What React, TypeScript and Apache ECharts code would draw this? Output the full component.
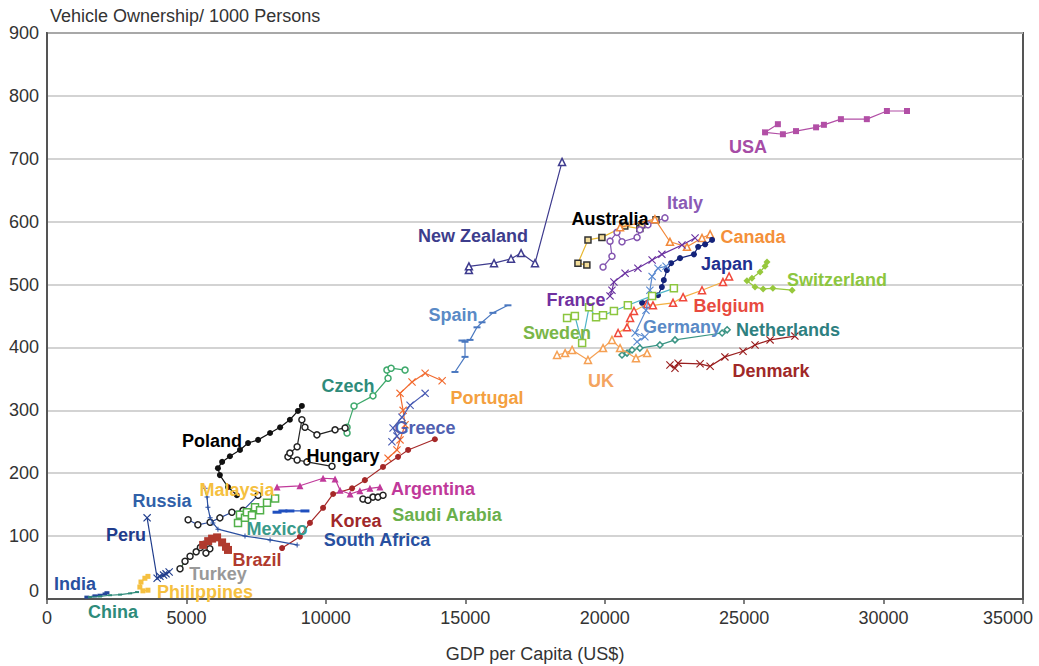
import React, { useEffect, useRef } from "react";
import * as echarts from "echarts";

// ---- axis settings ----
const xMin = 0;
const xMax = 35000;
const xStep = 5000;
const yMin = 0;
const yMax = 900;
const yStep = 100;
const yTitle = "Vehicle Ownership/ 1000 Persons";
const xTitle = "GDP per Capita (US$)";

// ---- series values: [GDP per capita, vehicles per 1000 persons] ----
const usa = [[26210, 755], [25750, 742], [26390, 739], [26860, 744], [27580, 750], [27860, 754], [28470, 763], [29400, 763], [30120, 776], [30840, 776]];
const newZealand = [[15130, 523], [15130, 529], [16030, 534], [16640, 541], [17000, 550], [17500, 534], [18470, 695]];
const australia = [[19360, 531], [19040, 534], [19400, 571], [19900, 575], [20720, 593], [21260, 589], [21330, 595], [21840, 603]];
const italy = [[19940, 528], [20260, 545], [20190, 569], [20440, 583], [20620, 568], [21160, 575], [21260, 587], [21550, 595], [22160, 606]];
const canada = [[20550, 591], [21800, 604], [22340, 568], [22950, 560], [23490, 574], [23780, 580]];
const france = [[20190, 482], [20260, 491], [20330, 504], [20730, 518], [21190, 526], [21700, 539], [22050, 548], [22770, 563], [23240, 574]];
const japan = [[21340, 471], [21910, 483], [22050, 496], [22120, 507], [22230, 523], [22380, 534], [22700, 542], [23200, 548], [23350, 560], [23600, 564], [23850, 571]];
const switzerland = [[25820, 536], [25750, 529], [25570, 520], [25280, 510], [25100, 506], [25390, 496], [25680, 493], [26030, 494], [26720, 491]];
const belgium = [[20480, 423], [20800, 432], [20910, 447], [21050, 458], [21520, 469], [21730, 467], [22450, 471], [22810, 480], [23490, 491], [24240, 504], [24460, 513]];
const germany = [[21160, 409], [21440, 417], [21090, 423], [21480, 459], [21620, 491], [21700, 513], [21910, 526], [22200, 529]];
const netherlands = [[20620, 388], [20800, 391], [20980, 396], [21260, 399], [21980, 404], [22520, 412], [24210, 423], [24390, 428]];
const denmark = [[22340, 372], [22520, 367], [22630, 375], [23420, 374], [23780, 370], [24310, 385], [24960, 394], [25390, 404], [25930, 412], [26820, 418]];
const sweden = [[18650, 447], [18930, 450], [19190, 407], [19440, 464], [19690, 448], [19940, 451], [20330, 458], [20830, 467], [21700, 482], [22480, 494]];
const uk = [[18290, 388], [18580, 391], [18830, 396], [19400, 380], [19940, 399], [20260, 412], [20550, 399], [21120, 383], [21520, 391]];
const spain = [[14630, 361], [14990, 385], [14990, 409], [14880, 411], [15170, 412], [15420, 432], [15600, 440], [15990, 455], [16530, 467]];
const czech = [[10760, 264], [10760, 273], [11010, 307], [11690, 323], [12230, 351], [12190, 364], [12340, 367], [12840, 364]];
const portugal = [[12230, 224], [12550, 237], [12660, 253], [12840, 277], [12770, 300], [12660, 327], [13090, 345], [13560, 359], [14170, 347]];
const greece = [[12370, 250], [12550, 259], [12410, 272], [12730, 289], [13020, 308], [13560, 327]];
const korea = [[8430, 81], [9070, 99], [9430, 121], [9900, 145], [10260, 167], [10940, 176], [11400, 189], [12050, 210], [12590, 226], [12950, 237], [13910, 254]];
const hungary = [[10220, 211], [9320, 218], [8970, 221], [8640, 226], [8710, 232], [8970, 242], [9140, 285], [9250, 273], [9680, 261], [10330, 269], [10690, 272]];
const poland = [[6810, 165], [6490, 178], [6200, 197], [6130, 208], [6280, 218], [6560, 227], [6920, 237], [7210, 248], [7570, 253], [8000, 264], [8360, 273], [8710, 285], [9000, 299], [9140, 307]];
const malaysia = [[5060, 126], [5410, 118], [5850, 122], [6200, 129], [6630, 138], [7030, 141], [7570, 165]];
const mexico = [[6850, 121], [6920, 134], [7100, 129], [7170, 138], [7350, 133], [7460, 146], [7640, 141], [7890, 153], [8180, 160]];
const southAfrica = [[8250, 138], [8460, 140], [8710, 140], [9250, 140]];
const russia = [[8970, 86], [8000, 94], [7100, 100], [6130, 111], [5950, 121], [5850, 129], [5770, 146], [5740, 162], [5670, 176]];
const peru = [[3590, 129], [3950, 33], [4050, 36], [4180, 38], [4270, 40], [4380, 43]];
const turkey = [[4770, 48], [4950, 60], [5130, 68], [5350, 75], [5500, 82], [5630, 87], [5840, 80], [5700, 73]];
const brazil = [[5600, 86], [5780, 92], [5920, 96], [6100, 98], [6280, 90], [6420, 83], [6490, 78]];
const argentina = [[8250, 178], [9070, 180], [9900, 192], [10330, 191], [10510, 173], [10870, 167], [11220, 172], [11580, 176], [11940, 178]];
const saudiArabia = [[11330, 159], [11510, 157], [11690, 162], [11870, 162], [12050, 165]];
const india = [[1430, 3], [1720, 5], [1900, 6], [2080, 8], [2150, 10]];
const china = [[1540, 3], [1900, 4], [2260, 6], [2620, 7], [2980, 9], [3230, 11]];
const philippines = [[3620, 14], [3440, 13], [3330, 19], [3370, 27], [3510, 33], [3620, 36]];

// ---- marker shapes ----
const X = "path://M1,0 L5,4 L9,0 L10,1 L6,5 L10,9 L9,10 L5,6 L1,10 L0,9 L4,5 L0,1 Z";
const PLUS = "path://M4,0 H6 V4 H10 V6 H6 V10 H4 V6 H0 V4 H4 Z";

type Spec = {
  name: string;
  data: number[][];
  color: string;
  line?: string;
  symbol: string;
  size: number | number[];
  open?: boolean;
  fill?: string;
};

const specs: Spec[] = [
  { name: "USA", data: usa, color: "#b24fa6", symbol: "rect", size: 6 },
  { name: "New Zealand", data: newZealand, color: "#3e3b8e", symbol: "triangle", size: 7, open: true },
  { name: "Australia", data: australia, color: "#333333", line: "#e8b830", symbol: "rect", size: 6, open: true, fill: "#f3dd9a" },
  { name: "Italy", data: italy, color: "#8456b0", symbol: "circle", size: 6, open: true },
  { name: "Canada", data: canada, color: "#f28a3c", symbol: "triangle", size: 7, open: true },
  { name: "France", data: france, color: "#6a32a0", symbol: X, size: 8 },
  { name: "Japan", data: japan, color: "#14237a", symbol: "circle", size: 6 },
  { name: "Switzerland", data: switzerland, color: "#97c83c", symbol: "diamond", size: 7 },
  { name: "Belgium", data: belgium, color: "#f0483c", line: "#f4b040", symbol: "triangle", size: 7, open: true },
  { name: "Germany", data: germany, color: "#5a8ad0", symbol: X, size: 8 },
  { name: "Netherlands", data: netherlands, color: "#3a9484", symbol: "diamond", size: 6, open: true },
  { name: "Denmark", data: denmark, color: "#9a1f1f", symbol: X, size: 8 },
  { name: "Sweden", data: sweden, color: "#8cc63f", line: "#4fb4c8", symbol: "rect", size: 7, open: true },
  { name: "UK", data: uk, color: "#f5a054", symbol: "triangle", size: 7, open: true },
  { name: "Spain", data: spain, color: "#4a78c0", symbol: "rect", size: [7, 2] },
  { name: "Czech", data: czech, color: "#3ca86a", symbol: "circle", size: 6, open: true },
  { name: "Portugal", data: portugal, color: "#f26a2e", symbol: X, size: 8 },
  { name: "Greece", data: greece, color: "#4a5cb4", symbol: X, size: 8 },
  { name: "Korea", data: korea, color: "#a52828", symbol: "circle", size: 6 },
  { name: "Hungary", data: hungary, color: "#222222", symbol: "circle", size: 6, open: true },
  { name: "Poland", data: poland, color: "#111111", symbol: "circle", size: 6 },
  { name: "Malaysia", data: malaysia, color: "#222222", line: "#3050a0", symbol: "circle", size: 6, open: true },
  { name: "Mexico", data: mexico, color: "#52b04a", symbol: "rect", size: 7, open: true },
  { name: "South Africa", data: southAfrica, color: "#1f4fbf", symbol: "rect", size: [9, 3] },
  { name: "Russia", data: russia, color: "#2a4fa0", symbol: PLUS, size: 5 },
  { name: "Peru", data: peru, color: "#1f3c8c", symbol: X, size: 8 },
  { name: "Turkey", data: turkey, color: "#222222", line: "#2a5a2a", symbol: "circle", size: 6, open: true },
  { name: "Brazil", data: brazil, color: "#b03a2e", symbol: "rect", size: 8 },
  { name: "Argentina", data: argentina, color: "#c0399a", symbol: "triangle", size: 7 },
  { name: "Saudi Arabia", data: saudiArabia, color: "#222222", symbol: "circle", size: 6, open: true },
  { name: "India", data: india, color: "#23479a", symbol: "rect", size: [5, 3] },
  { name: "China", data: china, color: "#2e8b7a", symbol: "rect", size: [4, 2] },
  { name: "Philippines", data: philippines, color: "#f5c040", symbol: "rect", size: 5 },
];

// ---- annotation layout (pixel centres) ----
const countryLabels: [string, number, number, string][] = [
  ["USA", 748, 147, "#a64ca6"],
  ["Italy", 685, 203, "#8a5ab5"],
  ["Australia", 610, 219, "#000000"],
  ["New Zealand", 473, 236, "#3d3d8c"],
  ["Canada", 753, 237, "#f4903a"],
  ["Japan", 727, 264, "#1f3090"],
  ["Switzerland", 837, 280, "#8dc63f"],
  ["France", 576, 300, "#7030a0"],
  ["Belgium", 729, 306, "#e84a3f"],
  ["Spain", 453, 315, "#5a8ac6"],
  ["Sweden", 557, 333, "#7ab648"],
  ["Germany", 682, 327, "#5a8ac6"],
  ["Netherlands", 788, 330, "#2e8080"],
  ["UK", 601, 381, "#f4a460"],
  ["Denmark", 771, 371, "#a02828"],
  ["Czech", 348, 386, "#2e8b7a"],
  ["Portugal", 487, 398, "#f4a040"],
  ["Greece", 425, 428, "#5060b0"],
  ["Poland", 212, 441, "#000000"],
  ["Hungary", 343, 456, "#000000"],
  ["Argentina", 433, 489, "#c0399a"],
  ["Malaysia", 237, 490, "#f5c040"],
  ["Russia", 162, 501, "#3060a8"],
  ["Saudi Arabia", 447, 515, "#6ab04c"],
  ["Korea", 356, 521, "#a0282a"],
  ["Mexico", 277, 529, "#3a9a8a"],
  ["Peru", 126, 535, "#1f3c8c"],
  ["South Africa", 377, 540, "#2850a0"],
  ["Brazil", 257, 560, "#b03a2e"],
  ["Turkey", 218, 574, "#999999"],
  ["India", 75, 584, "#2850a0"],
  ["Philippines", 205, 592, "#f5c040"],
  ["China", 113, 612, "#2e8b7a"],
];

const FONT = '"Liberation Sans", Arial, Helvetica, sans-serif';
const W = 1039;
const H = 666;
const tickText = { fontSize: 18, color: "#333", fontFamily: FONT };

export default function App() {
  const ref = useRef<HTMLDivElement>(null);

  useEffect(() => {
    if (!ref.current) return;
    document.body.style.margin = "0";
    document.body.style.overflow = "hidden";
    const chart = echarts.init(ref.current, undefined, { renderer: "svg", width: W, height: H });

    const series = specs.map((s, i) => ({
      type: "line",
      name: s.name,
      data: s.data,
      symbol: s.symbol,
      symbolSize: s.size,
      showSymbol: true,
      silent: true,
      z: 2 + i * 0.01,
      lineStyle: { color: s.line || s.color, width: 1.2 },
      itemStyle: s.open
        ? { color: s.fill || "#ffffff", borderColor: s.color, borderWidth: 1.5 }
        : { color: s.color, borderWidth: 0 },
      emphasis: { disabled: true },
    }));

    const graphic: any[] = [
      {
        type: "text",
        x: 50,
        y: 16,
        style: { text: yTitle, fill: "#333", font: `18px ${FONT}`, align: "left", verticalAlign: "middle" },
      },
      ...countryLabels.map(([t, x, y, c]) => ({
        type: "text",
        x,
        y,
        z: 100,
        style: { text: t, fill: c, font: `bold 18px ${FONT}`, align: "center", verticalAlign: "middle" },
      })),
    ];

    chart.setOption({
      animation: false,
      backgroundColor: "#ffffff",
      grid: {
        left: 47,
        right: 16,
        top: 33,
        bottom: 67,
        containLabel: false,
        outerBoundsMode: "none",
        show: true,
        borderColor: "#555555",
        borderWidth: 2,
        backgroundColor: "transparent",
      },
      xAxis: {
        type: "value",
        min: xMin,
        max: xMax,
        interval: xStep,
        name: xTitle,
        nameLocation: "middle",
        nameGap: 46,
        nameTextStyle: { fontSize: 18, color: "#333", fontFamily: FONT },
        axisLine: { show: true, lineStyle: { color: "#555555", width: 2 } },
        axisTick: { show: true, length: 5, lineStyle: { color: "#555555", width: 1.5 } },
        axisLabel: {
          ...tickText,
          margin: 10,
          formatter: (v: number) => (v === xMax ? `{m|${v}}` : String(v)),
          rich: { m: { ...tickText, padding: [0, 30, 0, 0] } },
        },
        splitLine: { show: false },
      },
      yAxis: {
        type: "value",
        min: yMin,
        max: yMax,
        interval: yStep,
        axisLine: { show: true, lineStyle: { color: "#555555", width: 2 } },
        axisTick: { show: false },
        axisLabel: {
          ...tickText,
          margin: 8,
          formatter: (v: number) => (v === yMin ? `{z|${v}}` : String(v)),
          rich: { z: { ...tickText, padding: [0, 0, 16, 0] } },
        },
        splitLine: { show: true, lineStyle: { color: "#c4c4c4", width: 1.5 } },
      },
      series,
      graphic,
    });

    return () => chart.dispose();
  }, []);

  return <div ref={ref} style={{ position: "absolute", left: 0, top: 0, width: W, height: H, overflow: "hidden" }} />;
}
